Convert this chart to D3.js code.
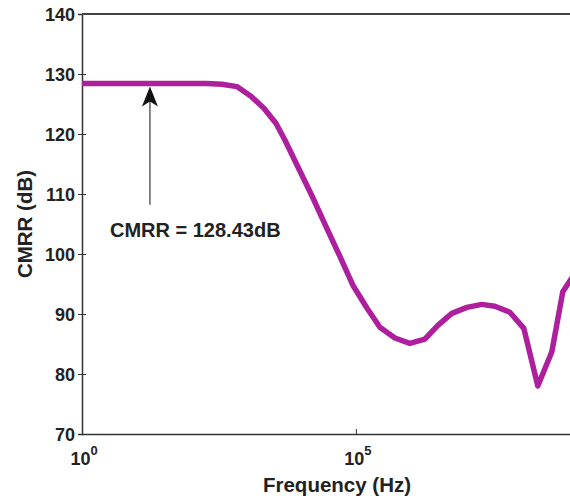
<!DOCTYPE html>
<html>
<head>
<meta charset="utf-8">
<script src="https://cdn.jsdelivr.net/npm/d3@7"></script>
<style>
  body { margin: 0; background: #fff; }
  svg text { font-family: "Liberation Sans", Arial, sans-serif; font-weight: bold; fill: #222; }
</style>
</head>
<body>
<div id="chart"></div>
<script>
// CMRR vs frequency
var freqHz = [1, 10, 100, 189, 359, 673, 1213, 2094, 3467, 5058, 8750, 15740, 28380, 51050, 88100,
    158900, 274200, 515200, 966000, 1.816e6, 3.133e6, 5.649e6, 1.062e7, 1.991e7, 3.436e7,
    6.457e7, 1.164e8, 2.094e8, 3.776e8, 5.984e8, 1e9];
var cmrrDb = [128.43, 128.43, 128.43, 128.43, 128.3, 127.9, 126.3, 124.3, 121.8, 119.0, 114.5,
    109.7, 104.6, 99.6, 94.8, 91.0, 87.8, 86.0, 85.1, 85.8, 88.1, 90.1, 91.1, 91.6, 91.3,
    90.3, 87.6, 78.0, 83.7, 93.7, 96.8];
var yTicks = [70, 80, 90, 100, 110, 120, 130, 140];
var xTicks = [1, 1e5];
var arrowTip = {f: 17.4, db: 127.9};
var arrowTail = {f: 17.4, db: 108.2};
var annotText = "CMRR = 128.43dB";
var annotPos = {f: 3.24, db: 102.8};

var margin = {top: 14, right: -5, bottom: 66, left: 82};
var W = 570, H = 500;
var width = W - margin.left - margin.right,
    height = H - margin.top - margin.bottom;

var svg = d3.select("#chart").append("svg")
    .attr("width", W)
    .attr("height", H);

var g = svg.append("g")
    .attr("transform", "translate(" + margin.left + "," + margin.top + ")");

var x = d3.scaleLog().domain([1, 1e9]).range([0, width]);
var y = d3.scaleLinear().domain([70, 140]).range([height, 0]);

// y axis
var yAxis = d3.axisLeft(y).tickValues(yTicks).tickSize(4).tickPadding(3).tickFormat(d3.format("d"));
var gy = g.append("g").attr("class", "y-axis").call(yAxis);
gy.select(".domain").attr("stroke", "#333").attr("stroke-width", 1.5);
gy.selectAll(".tick line").attr("stroke", "#333").attr("x2", -4).attr("x1", 4);
gy.selectAll(".tick text").style("font-size", "18px").attr("dy", "0.36em");

// x axis (ticks inward, labels drawn as 10^n)
var xAxis = d3.axisBottom(x).tickValues(xTicks).tickSizeInner(-5).tickSizeOuter(0).tickFormat("");
var gx = g.append("g").attr("class", "x-axis")
    .attr("transform", "translate(0," + height + ")")
    .call(xAxis);
gx.select(".domain").attr("stroke", "#333").attr("stroke-width", 1.5);
gx.selectAll(".tick line").attr("stroke", "#333");

xTicks.forEach(function(t){
    var lbl = g.append("text")
        .attr("x", x(t) + 2)
        .attr("y", height + 31)
        .attr("text-anchor", "middle")
        .style("font-size", "18px");
    lbl.append("tspan").text("10");
    lbl.append("tspan").attr("dy", "-0.75em").style("font-size", "13px").text(Math.round(Math.log10(t)));
});

// top border
g.append("line")
    .attr("x1", 0).attr("x2", width + 10)
    .attr("y1", 0).attr("y2", 0)
    .attr("stroke", "#444").attr("stroke-width", 2.2);

// curve
var data = freqHz.map(function(f, i){ return {f: f, db: cmrrDb[i]}; });
var line = d3.line()
    .x(function(d){ return x(d.f); })
    .y(function(d){ return y(d.db); });

g.append("path")
    .datum(data)
    .attr("d", line)
    .attr("fill", "none")
    .attr("stroke", "#AE1F9E")
    .attr("stroke-width", 5.5)
    .attr("stroke-linejoin", "round");

// annotation arrow
var tx = x(arrowTip.f), ty = y(arrowTip.db);
g.append("line")
    .attr("x1", tx).attr("x2", x(arrowTail.f))
    .attr("y1", ty + 12).attr("y2", y(arrowTail.db))
    .attr("stroke", "#111").attr("stroke-width", 1);
g.append("path")
    .attr("d", "M" + tx + "," + ty + " L" + (tx + 8) + "," + (ty + 20) +
        " L" + tx + "," + (ty + 15) + " L" + (tx - 8) + "," + (ty + 20) + " Z")
    .attr("fill", "#111");

g.append("text")
    .attr("x", x(annotPos.f))
    .attr("y", y(annotPos.db))
    .style("font-size", "20px")
    .text(annotText);

// axis labels
svg.append("text")
    .attr("x", 337)
    .attr("y", 492)
    .attr("text-anchor", "middle")
    .style("font-size", "20.5px")
    .text("Frequency (Hz)");

svg.append("text")
    .attr("transform", "translate(32," + (margin.top + height / 2) + ") rotate(-90)")
    .attr("text-anchor", "middle")
    .style("font-size", "20.5px")
    .text("CMRR (dB)");
</script>
</body>
</html>
